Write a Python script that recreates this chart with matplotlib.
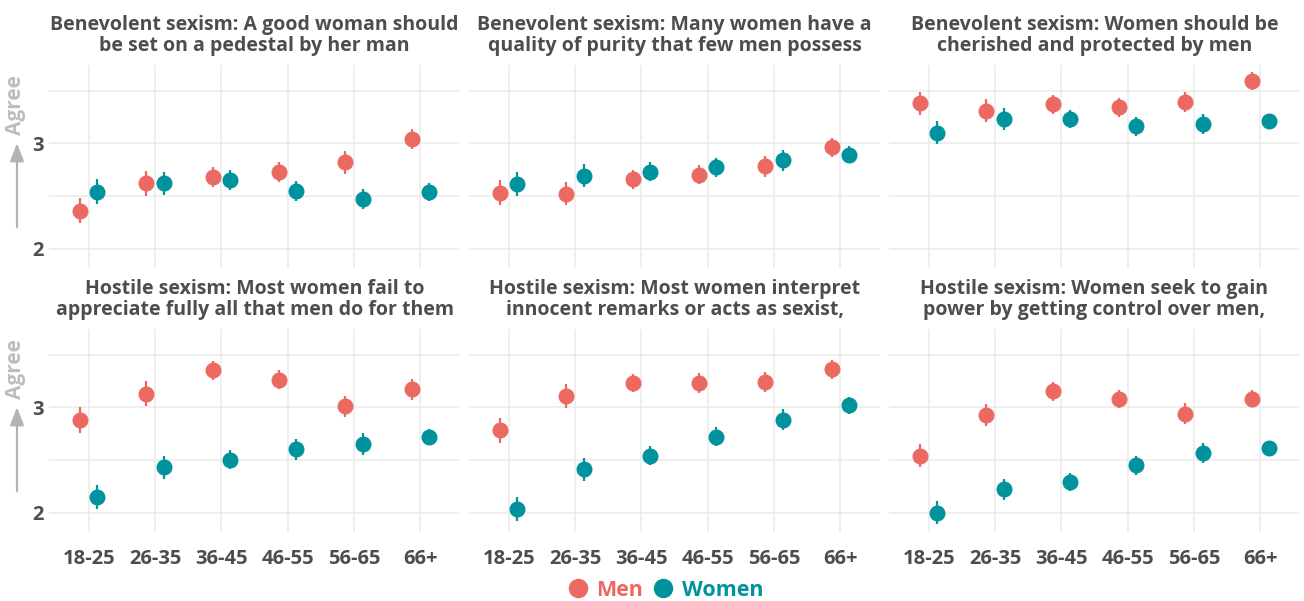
import matplotlib
matplotlib.use('Agg')
import matplotlib.pyplot as plt
from matplotlib.lines import Line2D
from matplotlib.patches import FancyArrowPatch
import numpy as np

plt.rcParams['font.family'] = ['Open Sans', 'DejaVu Sans']

ages = ['18-25', '26-35', '36-45', '46-55', '56-65', '66+']

titles = [
    "Benevolent sexism: A good woman should\nbe set on a pedestal by her man",
    "Benevolent sexism: Many women have a\nquality of purity that few men possess",
    "Benevolent sexism: Women should be\ncherished and protected by men",
    "Hostile sexism: Most women fail to\nappreciate fully all that men do for them",
    "Hostile sexism: Most women interpret\ninnocent remarks or acts as sexist,",
    "Hostile sexism: Women seek to gain\npower by getting control over men,",
]

# mean agreement by age group
men_mean = [
    [2.36, 2.62, 2.68, 2.73, 2.82, 3.04],
    [2.53, 2.52, 2.66, 2.70, 2.78, 2.96],
    [3.38, 3.31, 3.37, 3.34, 3.39, 3.59],
    [2.88, 3.13, 3.35, 3.26, 3.01, 3.17],
    [2.78, 3.11, 3.23, 3.23, 3.24, 3.36],
    [2.54, 2.93, 3.15, 3.08, 2.94, 3.08],
]
women_mean = [
    [2.54, 2.62, 2.65, 2.55, 2.47, 2.54],
    [2.61, 2.69, 2.73, 2.77, 2.84, 2.89],
    [3.10, 3.23, 3.23, 3.16, 3.18, 3.21],
    [2.15, 2.43, 2.50, 2.60, 2.65, 2.72],
    [2.03, 2.41, 2.54, 2.72, 2.88, 3.02],
    [2.00, 2.22, 2.29, 2.45, 2.57, 2.61],
]
# half-width of the confidence intervals
men_err = [
    [0.12, 0.12, 0.095, 0.095, 0.11, 0.095],
    [0.12, 0.11, 0.09, 0.09, 0.10, 0.09],
    [0.11, 0.11, 0.09, 0.09, 0.095, 0.085],
    [0.12, 0.115, 0.09, 0.09, 0.10, 0.10],
    [0.115, 0.115, 0.09, 0.095, 0.095, 0.09],
    [0.11, 0.105, 0.087, 0.087, 0.10, 0.08],
]
women_err = [
    [0.12, 0.11, 0.095, 0.095, 0.095, 0.087],
    [0.115, 0.11, 0.09, 0.09, 0.10, 0.08],
    [0.11, 0.10, 0.085, 0.09, 0.095, 0.07],
    [0.115, 0.11, 0.09, 0.10, 0.105, 0.075],
    [0.115, 0.11, 0.09, 0.09, 0.10, 0.08],
    [0.105, 0.10, 0.085, 0.09, 0.095, 0.07],
]

col_men = '#EC6962'
col_women = '#00939D'
txt = '#4D4D4D'
grid = '#EBEBEB'

W, H = 1304, 601
fig = plt.figure(figsize=(W / 100, H / 100), dpi=100)

lefts = [49, 469, 889]
tops = [65, 329]
pw, ph = 411, 203
ylo, yhi = 1.815, 3.743

x = np.arange(len(ages))
dodge = 0.13

for k in range(6):
    r, c = divmod(k, 3)
    ax = fig.add_axes([lefts[c] / W, 1 - (tops[r] + ph) / H, pw / W, ph / H])
    ax.set_xlim(-0.6, 5.6)
    ax.set_ylim(ylo, yhi)
    for s in ax.spines.values():
        s.set_visible(False)
    ax.set_yticks([2, 3])
    ax.set_yticks([2.5, 3.5], minor=True)
    ax.set_xticks(x)
    ax.grid(True, which='both', color=grid, lw=1.1, zorder=0)
    ax.tick_params(which='both', length=0)
    ax.tick_params(axis='y', pad=4, labelsize=14.5, labelcolor=txt)
    ax.tick_params(axis='x', pad=12, labelsize=14.5, labelcolor=txt)
    if c == 0:
        ax.set_yticklabels(['2', '3'], fontweight='bold')
    else:
        ax.set_yticklabels([])
    if r == 1:
        ax.set_xticklabels(ages, fontweight='bold')
    else:
        ax.set_xticklabels([])

    ax.errorbar(x - dodge, men_mean[k], yerr=men_err[k], fmt='o', color=col_men,
                ms=10.5, elinewidth=1.6, capsize=0, zorder=3)
    ax.errorbar(x + dodge, women_mean[k], yerr=women_err[k], fmt='o', color=col_women,
                ms=10.5, elinewidth=1.6, capsize=0, zorder=3)
    ax.set_title(titles[k], fontsize=14, fontweight='bold', color=txt,
                 linespacing=1.1, pad=10)

# "Agree" arrow on the left of each row
for top in tops:
    y3 = top + (yhi - 3) / (yhi - ylo) * ph
    fig.add_artist(FancyArrowPatch(
        (17 / W, 1 - (y3 + 84) / H), (17 / W, 1 - y3 / H),
        transform=fig.transFigure, arrowstyle='-|>,head_length=0.9,head_width=0.35',
        mutation_scale=12, color='#B3B3B3', lw=1.6, shrinkA=0, shrinkB=0))
    fig.text(16 / W, 1 - (y3 - 38) / H, 'Agree', rotation=90, ha='center', va='center',
             fontsize=15, fontweight='bold', color='#BDBDBD')

handles = [Line2D([], [], marker='o', ls='', color=col_men, ms=13),
           Line2D([], [], marker='o', ls='', color=col_women, ms=13)]
fig.legend(handles, ['Men', 'Women'], loc='center', bbox_to_anchor=(665 / W, 1 - 590 / H),
           ncol=2, frameon=False, handletextpad=0.35, columnspacing=0.45,
           handlelength=1.0, labelcolor=[col_men, col_women],
           prop={'weight': 'bold', 'size': 15.5})

fig.savefig('out.png', dpi=100)
